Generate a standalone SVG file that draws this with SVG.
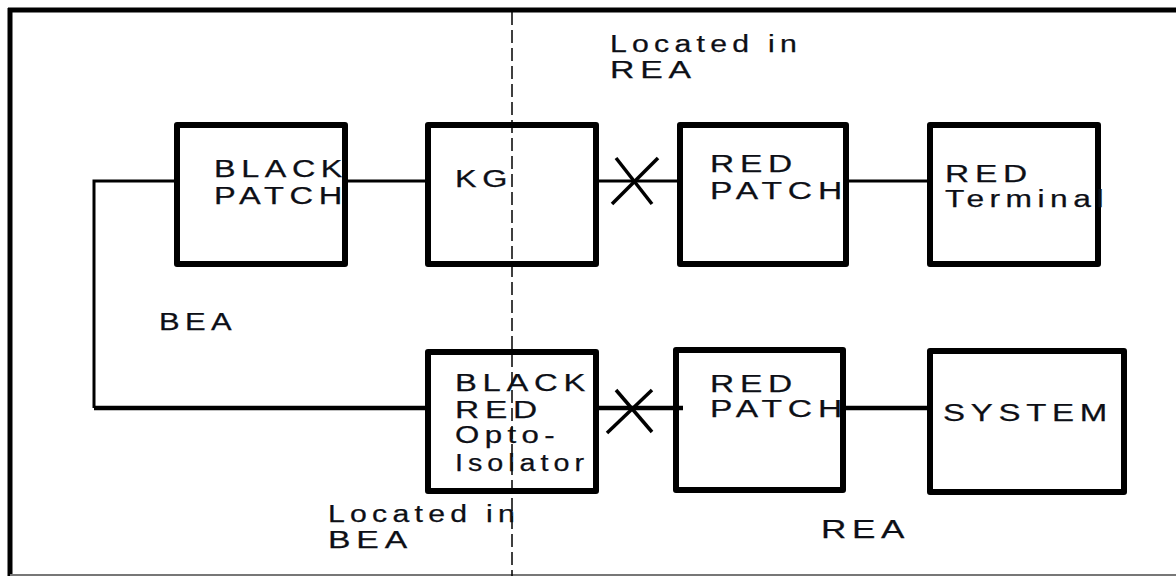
<svg xmlns="http://www.w3.org/2000/svg" width="1176" height="576" viewBox="0 0 1176 576">
<style>
.box{fill:none;stroke:#000;stroke-width:6;stroke-linejoin:round}
.t{font-family:"Liberation Sans",Arial,sans-serif;font-size:23px;letter-spacing:4px;fill:#0d0f16;stroke:#0d0f16;stroke-width:0.25}
.c{fill:none;stroke:#000;stroke-linecap:butt}
</style>
<rect x="0" y="0" width="1176" height="576" fill="#fff"/>
<g id="frame">
<line x1="10" y1="8" x2="10" y2="576" stroke="#000" stroke-width="5"/>
<line x1="8" y1="10" x2="1176" y2="10" stroke="#000" stroke-width="5"/>
<line x1="10" y1="575" x2="1176" y2="575" stroke="#777" stroke-width="2"/>
<line x1="512" y1="12" x2="512" y2="576" stroke="#000" stroke-width="1.5" stroke-dasharray="13 5"/>
</g>
<g id="connectors">
<polyline class="c" stroke-width="3" points="177,181 94,181 94,408"/>
<line class="c" stroke-width="4.5" x1="94" y1="408" x2="428" y2="408"/>
<line class="c" stroke-width="3" x1="345" y1="181" x2="428" y2="181"/>
<line class="c" stroke-width="3" x1="596" y1="181" x2="680" y2="181"/>
<line class="c" stroke-width="3" x1="846" y1="181" x2="930" y2="181"/>
<line class="c" stroke-width="4.5" x1="596" y1="408" x2="683" y2="408"/>
<line class="c" stroke-width="4.5" x1="843" y1="408" x2="930" y2="408"/>
<line class="c" stroke-width="3.5" x1="616" y1="158" x2="652" y2="204"/>
<line class="c" stroke-width="3.5" x1="658" y1="158" x2="612" y2="204"/>
<line class="c" stroke-width="3.5" x1="616" y1="390" x2="652" y2="432"/>
<line class="c" stroke-width="3.5" x1="652" y1="390" x2="607" y2="433"/>
</g>
<g id="black-patch">
<rect class="box" x="177" y="125" width="168" height="139"/>
<text class="t" x="214" y="177" textLength="134" lengthAdjust="spacingAndGlyphs">BLACK</text>
<text class="t" x="214" y="204" textLength="134" lengthAdjust="spacingAndGlyphs">PATCH</text>
</g>
<g id="kg">
<rect class="box" x="428" y="125" width="168" height="139"/>
<text class="t" x="455" y="187" textLength="58" lengthAdjust="spacingAndGlyphs">KG</text>
</g>
<g id="red-patch-top">
<rect class="box" x="680" y="125" width="166" height="139"/>
<text class="t" x="710" y="172" textLength="88" lengthAdjust="spacingAndGlyphs">RED</text>
<text class="t" x="710" y="199" textLength="138" lengthAdjust="spacingAndGlyphs">PATCH</text>
</g>
<g id="red-terminal">
<rect class="box" x="930" y="125" width="168" height="139"/>
<text class="t" x="945" y="182" textLength="88" lengthAdjust="spacingAndGlyphs">RED</text>
<text class="t" x="945" y="207" textLength="164" lengthAdjust="spacingAndGlyphs">Terminal</text>
</g>
<g id="opto-isolator">
<rect class="box" x="428" y="352" width="168" height="139"/>
<text class="t" x="455" y="391" textLength="136" lengthAdjust="spacingAndGlyphs">BLACK</text>
<text class="t" x="455" y="418" textLength="88" lengthAdjust="spacingAndGlyphs">RED</text>
<text class="t" x="455" y="443" textLength="105" lengthAdjust="spacingAndGlyphs">Opto-</text>
<text class="t" x="455" y="471" textLength="134" lengthAdjust="spacingAndGlyphs">Isolator</text>
</g>
<g id="red-patch-bottom">
<rect class="box" x="676" y="350" width="167" height="140"/>
<text class="t" x="710" y="392" textLength="88" lengthAdjust="spacingAndGlyphs">RED</text>
<text class="t" x="710" y="417" textLength="138" lengthAdjust="spacingAndGlyphs">PATCH</text>
</g>
<g id="system">
<rect class="box" x="930" y="351" width="194" height="141"/>
<text class="t" x="943" y="421" textLength="170" lengthAdjust="spacingAndGlyphs">SYSTEM</text>
</g>
<g id="labels">
<text class="t" x="610" y="52" textLength="192" lengthAdjust="spacingAndGlyphs">Located in</text>
<text class="t" x="610" y="78" textLength="87" lengthAdjust="spacingAndGlyphs">REA</text>
<text class="t" x="159" y="330" textLength="78" lengthAdjust="spacingAndGlyphs">BEA</text>
<text class="t" x="328" y="522" textLength="192" lengthAdjust="spacingAndGlyphs">Located in</text>
<text class="t" x="328" y="548" textLength="85" lengthAdjust="spacingAndGlyphs">BEA</text>
<text class="t" x="821" y="538" textLength="89" lengthAdjust="spacingAndGlyphs" style="font-size:25px">REA</text>
</g>
</svg>
